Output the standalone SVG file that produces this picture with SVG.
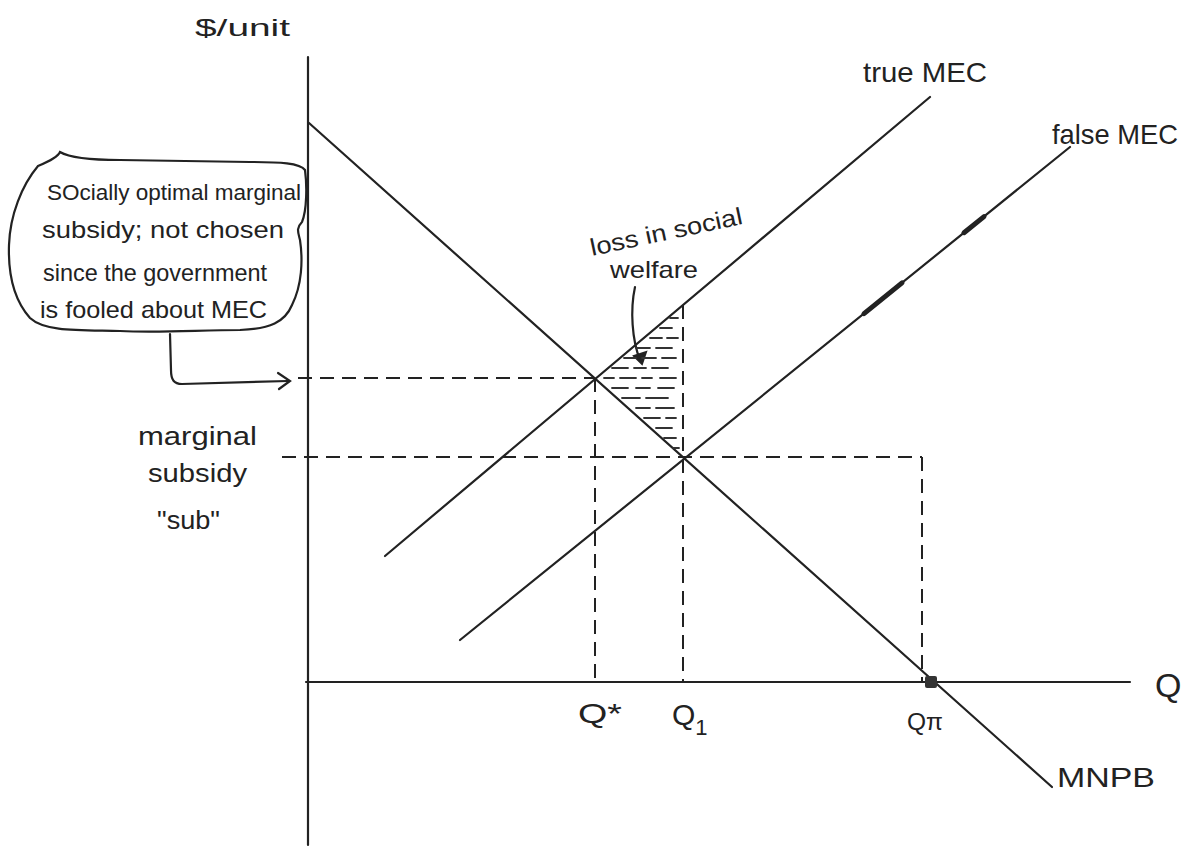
<svg xmlns="http://www.w3.org/2000/svg" width="1192" height="852" viewBox="0 0 1192 852">
<defs>
<style>
.ln{stroke:#222;stroke-width:2.2;fill:none;stroke-linecap:round}
.thick{stroke:#222;stroke-width:5;fill:none;stroke-linecap:round}
.dash{stroke:#222;stroke-width:2;fill:none;stroke-dasharray:14 8}
.hatch{stroke:#333;stroke-width:1.8;stroke-linecap:round}
.t{font-family:"Liberation Sans",Arial,sans-serif;fill:#222}
</style>
</defs>
<rect width="1192" height="852" fill="#fff"/>
<g id="axes">
<line class="ln" x1="308" y1="57" x2="308" y2="845"/>
<line class="ln" x1="306" y1="682" x2="1130" y2="682"/>
</g>
<g id="connectors">
<line id="mnpb-line" class="ln" x1="309" y1="123" x2="1052" y2="787"/>
<line id="true-mec-line" class="ln" x1="385" y1="556" x2="930" y2="97"/>
<line id="false-mec-line" class="ln" x1="460" y1="640" x2="1070" y2="147"/>
<line class="thick" x1="964" y1="232.7" x2="984" y2="216.6"/>
<line class="thick" x1="864" y1="313.6" x2="902" y2="282.9"/>
<line class="dash" x1="298" y1="378" x2="595" y2="378"/>
<line class="dash" x1="595" y1="378" x2="595" y2="682"/>
<line class="dash" x1="282" y1="457" x2="922" y2="457"/>
<line class="dash" x1="922" y1="457" x2="922" y2="682"/>
<line class="dash" x1="683" y1="305" x2="683" y2="682"/>
<path class="ln" d="M170,334 L171,370 C171,380 174,384 182,384 L288,381"/>
<path class="ln" d="M278,373 L290,381 L279,389"/>
<path class="ln" d="M635,287 C630,310 632,340 640,360"/>
<path d="M634,356 L642,364 L646,352 Z" fill="#222" stroke="#222" stroke-width="2"/>
</g>
<g id="deadweight-loss">
<g class="hatch">
<line x1="670" y1="318" x2="678" y2="318"/>
<line x1="660" y1="328" x2="672" y2="328"/>
<line x1="650" y1="338" x2="662" y2="338"/><line x1="667" y1="338" x2="678" y2="338"/>
<line x1="636" y1="348" x2="650" y2="348"/><line x1="656" y1="348" x2="672" y2="348"/>
<line x1="624" y1="358" x2="636" y2="358"/><line x1="642" y1="358" x2="656" y2="358"/><line x1="662" y1="358" x2="676" y2="358"/>
<line x1="612" y1="368" x2="628" y2="368"/><line x1="634" y1="368" x2="646" y2="368"/><line x1="652" y1="368" x2="668" y2="368"/>
<line x1="604" y1="378" x2="614" y2="378"/><line x1="620" y1="378" x2="636" y2="378"/><line x1="642" y1="378" x2="652" y2="378"/><line x1="660" y1="378" x2="676" y2="378"/>
<line x1="612" y1="388" x2="628" y2="388"/><line x1="636" y1="388" x2="650" y2="388"/><line x1="658" y1="388" x2="674" y2="388"/>
<line x1="622" y1="398" x2="640" y2="398"/><line x1="646" y1="398" x2="668" y2="398"/>
<line x1="636" y1="408" x2="650" y2="408"/><line x1="656" y1="408" x2="674" y2="408"/>
<line x1="644" y1="418" x2="660" y2="418"/><line x1="666" y1="418" x2="676" y2="418"/>
<line x1="656" y1="428" x2="672" y2="428"/>
<line x1="664" y1="438" x2="676" y2="438"/>
<line x1="673" y1="448" x2="679" y2="448"/>
</g>
</g>
<g id="q-pi-point">
<rect x="925" y="676" width="12" height="12" rx="2" fill="#333"/>
</g>
<g id="callout">
<path class="ln" d="M60,152 C58,157 50,161 38,166 C22,185 10,215 9,245 C8,275 14,300 30,318 C45,332 80,330 120,331 C160,333 200,330 240,330 C270,329 285,322 292,305 C302,285 303,260 300,240 C298,232 296,228 302,222 C307,210 307,185 305,170 C300,163 280,162 250,162 L120,160 C90,160 70,158 60,152 Z"/>
<text class="t" x="47" y="200" font-size="22" textLength="254" lengthAdjust="spacingAndGlyphs">SOcially optimal marginal</text>
<text class="t" x="42" y="238" font-size="24" textLength="242" lengthAdjust="spacingAndGlyphs">subsidy; not chosen</text>
<text class="t" x="43" y="281" font-size="24" textLength="224" lengthAdjust="spacingAndGlyphs">since the government</text>
<text class="t" x="40" y="318" font-size="24" textLength="227" lengthAdjust="spacingAndGlyphs">is fooled about MEC</text>
</g>
<g id="labels">
<text class="t" x="195" y="36" font-size="24" textLength="95" lengthAdjust="spacingAndGlyphs">$/unit</text>
<text class="t" x="863" y="82" font-size="28" textLength="124" lengthAdjust="spacingAndGlyphs">true MEC</text>
<text class="t" x="1052" y="144" font-size="28" textLength="126" lengthAdjust="spacingAndGlyphs">false MEC</text>
<text class="t" x="592" y="256" font-size="24" textLength="155" lengthAdjust="spacingAndGlyphs" transform="rotate(-12 592 256)">loss in social</text>
<text class="t" x="610" y="278" font-size="24" textLength="88" lengthAdjust="spacingAndGlyphs">welfare</text>
<text class="t" x="138" y="445" font-size="26" textLength="119" lengthAdjust="spacingAndGlyphs">marginal</text>
<text class="t" x="148" y="482" font-size="26" textLength="99" lengthAdjust="spacingAndGlyphs">subsidy</text>
<text class="t" x="157" y="529" font-size="26" textLength="63" lengthAdjust="spacingAndGlyphs">"sub"</text>
<text class="t" x="578" y="723" font-size="28" textLength="44" lengthAdjust="spacingAndGlyphs">Q*</text>
<text class="t" x="672" y="725" font-size="30">Q<tspan font-size="22" dy="10">1</tspan></text>
<text class="t" x="907" y="730" font-size="24" textLength="36" lengthAdjust="spacingAndGlyphs">Qπ</text>
<text class="t" x="1155" y="697" font-size="34">Q</text>
<text class="t" x="1057" y="787" font-size="28" textLength="98" lengthAdjust="spacingAndGlyphs">MNPB</text>
</g>
</svg>
